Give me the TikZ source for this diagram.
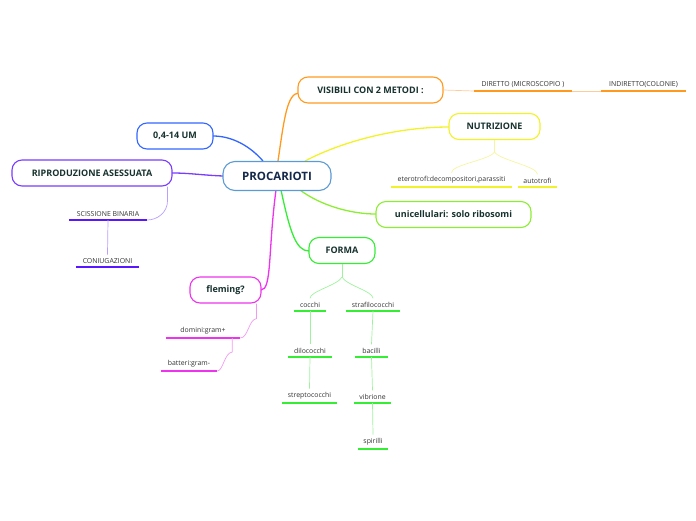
\documentclass[tikz,border=0pt]{standalone}
\usepackage{fontspec}
\setmainfont{Open Sans}
\definecolor{ctxt}{HTML}{17322E}
\definecolor{cproc}{HTML}{13284A}
\definecolor{cleaf}{HTML}{333333}
\definecolor{cprocb}{HTML}{5B9BD5}
\definecolor{cblue}{HTML}{3366FF}
\definecolor{cpurp}{HTML}{7A3CFF}
\definecolor{cpurpd}{HTML}{5A17FF}
\definecolor{cpurpl}{HTML}{B8A0FF}
\definecolor{cmag}{HTML}{EE33EE}
\definecolor{cmagl}{HTML}{F29AF2}
\definecolor{corg}{HTML}{FF9A1F}
\definecolor{corgl}{HTML}{FFCC99}
\definecolor{cyel}{HTML}{F2F22A}
\definecolor{cyell}{HTML}{F5F5A0}
\definecolor{cyg}{HTML}{8CEE33}
\definecolor{cgrn}{HTML}{33EE33}
\definecolor{cgrnl}{HTML}{9EF29E}
\begin{document}
\begin{tikzpicture}[x=1pt,y=-1pt,
  topic/.style={draw, rounded corners=10pt, line width=1.1pt, fill=white,
    font=\bfseries\fontsize{9}{11}\selectfont, text=ctxt, minimum height=26pt, inner sep=0pt},
  leaf/.style={font=\fontsize{6.9}{8}\selectfont, text=cleaf, anchor=south, inner xsep=0pt, inner ysep=3.5pt},
  uline/.style={line width=2pt},
  main/.style={line width=1.3pt},
  sub/.style={line width=0.7pt}]
\useasboundingbox (0,0) rectangle (696,520);

% main connectors (drawn first)
\draw[main,cblue] (263,161) .. controls (250,146) and (232,136) .. (213,136);
\draw[main,cpurp] (223,176) .. controls (200,175) and (190,173) .. (172,173);
\draw[main,corg] (278,161) .. controls (284,120) and (287,93) .. (299,93);
\draw[main,cyel] (305,161) .. controls (345,140) and (400,127) .. (449,127);
\draw[main,cyg] (300,190) .. controls (320,205) and (350,214) .. (376,214);
\draw[main,cgrn] (281,190) .. controls (290,232) and (296,251) .. (309,251);
\draw[main,cmag] (276,190) .. controls (268,250) and (272,290) .. (261,290);

% central
\node[topic, draw=cprocb, minimum width=108pt, minimum height=29pt, rounded corners=12pt,
  font=\bfseries\fontsize{11.5}{13}\selectfont, text=cproc] (proc) at (277,176) {PROCARIOTI};

% topics
\node[topic, draw=cblue, minimum width=76pt] (um) at (175,136) {0,4-14 UM};
\node[topic, draw=cpurp, minimum width=160pt] (rip) at (92,173) {RIPRODUZIONE ASESSUATA};
\node[topic, draw=cmag, minimum width=71pt] (fl) at (225.5,290) {fleming?};
\node[topic, draw=corg, minimum width=145pt] (vis) at (370.5,90) {VISIBILI CON 2 METODI :};
\node[topic, draw=cyel, minimum width=91pt] (nut) at (494.5,126.5) {NUTRIZIONE};
\node[topic, draw=cyg, minimum width=155pt] (uni) at (453.5,214.5) {unicellulari: solo ribosomi};
\node[topic, draw=cgrn, minimum width=66pt] (for) at (342,250.5) {FORMA};

% leaves
\node[leaf, minimum width=78pt] (sc) at (108,220) {SCISSIONE BINARIA};
\node[leaf, minimum width=63pt] (co) at (107.5,267) {CONIUGAZIONI};
\node[leaf, minimum width=74pt] (dom) at (203,338) {domini:gram+};
\node[leaf, minimum width=56pt] (bat) at (189,371) {batteri:gram-};
\node[leaf, minimum width=98pt] (dir) at (523,91) {DIRETTO (MICROSCOPIO )};
\node[leaf, minimum width=85pt] (ind) at (643.5,91) {INDIRETTO(COLONIE)};
\node[leaf, minimum width=121pt] (ete) at (451.5,187) {eterotrofi:decompositori,parassiti};
\node[leaf, minimum width=39pt] (aut) at (537.5,187) {autotrofi};
\node[leaf, minimum width=32pt] (coc) at (310,311) {cocchi};
\node[leaf, minimum width=54pt] (str) at (373,311) {strafilococchi};
\node[leaf, minimum width=44pt] (dil) at (310,357) {dilococchi};
\node[leaf, minimum width=55pt] (stp) at (309.5,403) {streptococchi};
\node[leaf, minimum width=33pt] (bac) at (371.5,357) {bacilli};
\node[leaf, minimum width=37pt] (vib) at (372.5,403) {vibrione};
\node[leaf, minimum width=30pt] (spi) at (373,449) {spirilli};

% underlines
\foreach \n/\c in {sc/cpurpd,co/cpurpd,dom/cmag,bat/cmag,dir/corg,ind/corg,ete/cyel,aut/cyel,
  coc/cgrn,str/cgrn,dil/cgrn,stp/cgrn,bac/cgrn,vib/cgrn,spi/cgrn}
  \draw[uline,\c] (\n.south west) -- (\n.south east);

% sub connectors
\draw[sub,cpurpl] ([xshift=-5pt]rip.south east) -- ++(0,14) .. controls +(0,12) and +(10,0) .. (sc.south east);
\draw[sub,cpurpl] (sc.south) -- (co.north);
\draw[sub,cmagl] ([xshift=-5pt]fl.south east) -- ++(0,15) .. controls +(-8,1) and +(8,0) .. (dom.south east);
\draw[sub,cmagl] ([xshift=-8pt]dom.south east) -- ++(0,14) .. controls +(-8,1) and +(6,0) .. (bat.south east);
\draw[sub,corgl] (vis.east) -- (dir.south west);
\draw[sub,corgl] (dir.south east) -- (ind.south west);
\draw[sub,cyell] (nut.south) -- ++(0,12) coordinate (nj);
\draw[sub,cyell] (nj) .. controls +(-5,8) and +(0,-8) .. (ete.north);
\draw[sub,cyell] (nj) .. controls +(5,8) and +(0,-8) .. (aut.north);
\draw[sub,cgrnl] (for.south) -- ++(0,13) coordinate (fj);
\draw[sub,cgrnl] (fj) .. controls +(-4,8) and +(0,-7) .. (coc.north);
\draw[sub,cgrnl] (fj) .. controls +(4,8) and +(0,-7) .. (str.north);
\draw[sub,cgrnl] (coc.south) -- (dil.north);
\draw[sub,cgrnl] (dil.south) -- (stp.north);
\draw[sub,cgrnl] (str.south) -- (bac.north);
\draw[sub,cgrnl] (bac.south) -- (vib.north);
\draw[sub,cgrnl] (vib.south) -- (spi.north);
\end{tikzpicture}
\end{document}
